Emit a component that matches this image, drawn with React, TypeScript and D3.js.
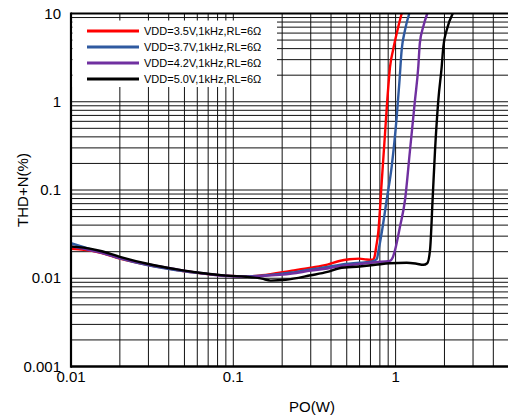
import React from "react";
import * as d3 from "d3";

const W = 508;
const H = 417;

const xTickLabels = ["0.01", "0.1", "1"];
const yTickLabels = ["0.001", "0.01", "0.1", "1", "10"];

const legendLabels = [
  "VDD=3.5V,1kHz,RL=6Ω",
  "VDD=3.7V,1kHz,RL=6Ω",
  "VDD=4.2V,1kHz,RL=6Ω",
  "VDD=5.0V,1kHz,RL=6Ω",
];
const seriesColors = ["#ff0000", "#2f5aa0", "#7030a0", "#000000"];

const redP = [0.01, 0.012, 0.015, 0.02, 0.03, 0.045, 0.06, 0.09, 0.12, 0.15, 0.23, 0.3, 0.38, 0.45, 0.52, 0.6, 0.66, 0.72, 0.74, 0.76, 0.782, 0.82, 0.861, 0.889, 0.924, 0.965, 1.039, 1.09];
const redT = [0.0215, 0.021, 0.0196, 0.0167, 0.0141, 0.0124, 0.0115, 0.0107, 0.0105, 0.0108, 0.0122, 0.0132, 0.0143, 0.0157, 0.0164, 0.0167, 0.0163, 0.0162, 0.0172, 0.023, 0.033, 0.119, 0.44, 1.05, 2.49, 3.86, 7.08, 10];

const blueP = [0.01, 0.012, 0.015, 0.02, 0.03, 0.045, 0.06, 0.09, 0.12, 0.15, 0.23, 0.3, 0.38, 0.45, 0.6, 0.72, 0.765, 0.79, 0.82, 0.881, 0.946, 1.016, 1.054, 1.09, 1.143, 1.214];
const blueT = [0.025, 0.0225, 0.0198, 0.0168, 0.014, 0.0123, 0.0115, 0.0107, 0.0105, 0.0107, 0.0116, 0.0126, 0.0134, 0.0142, 0.015, 0.0155, 0.0165, 0.022, 0.0323, 0.077, 0.184, 0.677, 1.62, 3.86, 6.5, 10];

const purpleP = [0.01, 0.012, 0.015, 0.02, 0.03, 0.045, 0.06, 0.09, 0.12, 0.15, 0.23, 0.3, 0.38, 0.45, 0.6, 0.75, 0.92, 0.96, 0.992, 1.064, 1.143, 1.227, 1.317, 1.38, 1.41, 1.48, 1.567];
const purpleT = [0.023, 0.0215, 0.0197, 0.0169, 0.0143, 0.0126, 0.0116, 0.0106, 0.0104, 0.0106, 0.0113, 0.0122, 0.0129, 0.0137, 0.0145, 0.0152, 0.0157, 0.0172, 0.0209, 0.0384, 0.077, 0.284, 1.05, 2.49, 4.6, 7.08, 10];

const blackP = [0.01, 0.012, 0.015, 0.02, 0.03, 0.045, 0.06, 0.09, 0.12, 0.15, 0.17, 0.21, 0.3, 0.38, 0.45, 0.6, 0.75, 0.92, 1.17, 1.35, 1.48, 1.567, 1.63, 1.69, 1.75, 1.834, 1.923, 1.968, 2.065, 2.25];
const blackT = [0.0228, 0.0222, 0.0205, 0.0175, 0.0145, 0.0126, 0.0116, 0.0107, 0.0104, 0.0099, 0.0094, 0.0096, 0.0108, 0.0118, 0.013, 0.0136, 0.0142, 0.0148, 0.015, 0.0146, 0.0142, 0.0148, 0.0209, 0.077, 0.284, 1.05, 2.49, 4.2, 6.5, 10];

const seriesP = [redP, blueP, purpleP, blackP];
const seriesT = [redT, blueT, purpleT, blackT];

const FONT = "'Liberation Sans', Arial, sans-serif";

export default function App() {
  const left = 71;
  const top = 13.5;
  const bottom = 366.5;
  const dec = 162.3;
  const x = d3.scaleLog().domain([0.01, 10]).range([left, left + dec * 3]);
  const y = d3.scaleLog().domain([0.001, 10]).range([bottom, top]);

  const xGrid: number[] = [];
  [0.01, 0.1, 1].forEach((d) => {
    for (let k = 1; k <= 9; k++) xGrid.push(k * d);
  });
  xGrid.push(10);
  const yGrid: number[] = [];
  [0.001, 0.01, 0.1, 1].forEach((d) => {
    for (let k = 1; k <= 9; k++) yGrid.push(k * d);
  });
  yGrid.push(10);

  const line = d3
    .line<[number, number]>()
    .x((d) => x(d[0]))
    .y((d) => y(d[1]))
    .curve(d3.curveMonotoneX);

  const legendRows = [31, 47, 63, 79];

  return (
    <svg
      width={W}
      height={H}
      style={{ position: "absolute", left: 0, top: 0, background: "#fff" }}
      fontFamily={FONT}
    >
      <defs>
        <clipPath id="plotclip">
          <rect x={left} y={top} width={W - left} height={bottom - top} />
        </clipPath>
      </defs>
      <rect x={0} y={0} width={W} height={H} fill="#fff" />
      <g>
        {xGrid.map((v, i) => (
          <line key={"xg" + i} x1={x(v)} x2={x(v)} y1={top} y2={bottom} stroke="#111" strokeWidth={1} />
        ))}
        {yGrid.map((v, i) => (
          <line key={"yg" + i} x1={left} x2={W} y1={y(v)} y2={y(v)} stroke="#111" strokeWidth={1} />
        ))}
      </g>
      <g clipPath="url(#plotclip)">
        {seriesP.map((ps, si) => (
          <path
            key={"s" + si}
            d={line(ps.map((p, j) => [p, seriesT[si][j]] as [number, number])) || ""}
            fill="none"
            stroke={seriesColors[si]}
            strokeWidth={2.4}
            strokeLinejoin="round"
          />
        ))}
      </g>
      <line x1={left} x2={left} y1={top - 1} y2={bottom + 1.3} stroke="#000" strokeWidth={2.2} />
      <line x1={left} x2={W} y1={top} y2={top} stroke="#000" strokeWidth={2} />
      <line x1={left} x2={W} y1={bottom} y2={bottom} stroke="#000" strokeWidth={2.6} />

      <rect x={72.5} y={20.5} width={204.5} height={66.5} fill="#fff" />
      {legendLabels.map((lab, i) => (
        <g key={"lg" + i}>
          <line x1={87} x2={139} y1={legendRows[i]} y2={legendRows[i]} stroke={seriesColors[i]} strokeWidth={2.8} />
          <text x={144} y={legendRows[i] + 4} fontSize={11} fill="#000">
            {lab}
          </text>
        </g>
      ))}

      {yTickLabels.map((t) => (
        <text key={"yt" + t} x={61} y={y(+t) + 5} fontSize={15} textAnchor="end" fill="#000">
          {t}
        </text>
      ))}
      {xTickLabels.map((t) => (
        <text key={"xt" + t} x={x(+t)} y={382} fontSize={15} textAnchor="middle" fill="#000">
          {t}
        </text>
      ))}
      <text x={312} y={412} fontSize={15} textAnchor="middle" fill="#000">
        PO(W)
      </text>
      <text
        transform={`translate(28,190) rotate(-90)`}
        fontSize={15}
        textAnchor="middle"
        fill="#000"
      >
        THD+N(%)
      </text>
    </svg>
  );
}
